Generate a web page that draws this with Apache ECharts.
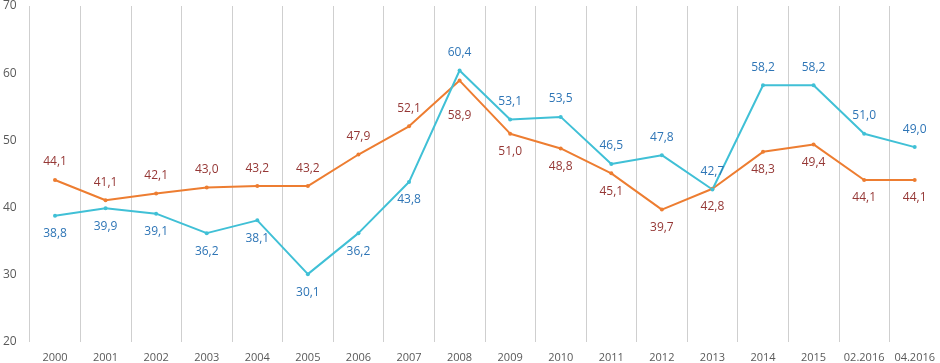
<!DOCTYPE html>
<html>
<head>
<meta charset="utf-8">
<script src="https://cdn.jsdelivr.net/npm/echarts@6/dist/echarts.min.js"></script>
<style>
  html, body { margin: 0; padding: 0; background: #fff; }
  #chart { width: 940px; height: 363px; }
</style>
</head>
<body>
<div id="chart"></div>
<script>
// categories and values
const categories = ['2000', '2001', '2002', '2003', '2004', '2005', '2006', '2007', '2008',
  '2009', '2010', '2011', '2012', '2013', '2014', '2015', '02.2016', '04.2016'];
const orangeValues = [44.1, 41.1, 42.1, 43.0, 43.2, 43.2, 47.9, 52.1, 58.9,
  51.0, 48.8, 45.1, 39.7, 42.8, 48.3, 49.4, 44.1, 44.1];
const blueValues = [38.8, 39.9, 39.1, 36.2, 38.1, 30.1, 36.2, 43.8, 60.4,
  53.1, 53.5, 46.5, 47.8, 42.7, 58.2, 58.2, 51.0, 49.0];
// label placement: first 8 points orange above / blue below, then swapped
const orangeLabelPos = ['top', 'top', 'top', 'top', 'top', 'top', 'top', 'top', 'bottom',
  'bottom', 'bottom', 'bottom', 'bottom', 'bottom', 'bottom', 'bottom', 'bottom', 'bottom'];
const blueLabelPos = ['bottom', 'bottom', 'bottom', 'bottom', 'bottom', 'bottom', 'bottom', 'bottom', 'top',
  'top', 'top', 'top', 'top', 'top', 'top', 'top', 'top', 'top'];

const COLORS = {
  orange: '#ed7d31',
  orangeLabel: '#953735',
  blue: '#40c0d6',
  blueLabel: '#2e75b6',
  text: '#595959',
  grid: '#cfcfcf',
};
const FONT = '"Open Sans", sans-serif';

// 2008 orange label sits lower so it clears the blue peak
const orangeLabelDistance = { 8: 27 };

const fmt = (v) => v.toFixed(1).replace('.', ',');

function buildData(values, positions, labelColor, distances) {
  return values.map((v, i) => ({
    value: v,
    label: {
      position: positions[i],
      color: labelColor,
      distance: (distances && distances[i]) || 10,
    },
  }));
}

const chart = echarts.init(document.getElementById('chart'));

const option = {
  animation: false,
  grid: { left: 28, right: -2, top: 5, bottom: 21 },
  xAxis: {
    type: 'category',
    data: categories,
    boundaryGap: true,
    axisLine: { show: false },
    axisTick: { show: false },
    axisLabel: {
      color: COLORS.text,
      fontSize: 11,
      fontFamily: FONT,
      margin: 10,
      interval: 0,
    },
    splitLine: {
      show: true,
      interval: 0,
      lineStyle: { color: COLORS.grid, width: 1 },
    },
  },
  yAxis: {
    type: 'value',
    min: 20,
    max: 70,
    interval: 10,
    axisLine: { show: false },
    axisTick: { show: false },
    splitLine: { show: false },
    axisLabel: {
      color: COLORS.text,
      fontSize: 12,
      fontFamily: FONT,
      margin: 13,
    },
  },
  series: [
    {
      name: 'orange',
      type: 'line',
      data: buildData(orangeValues, orangeLabelPos, COLORS.orangeLabel, orangeLabelDistance),
      symbol: 'circle',
      symbolSize: 4,
      itemStyle: { color: COLORS.orange },
      lineStyle: { color: COLORS.orange, width: 2 },
      label: {
        show: true,
        fontSize: 12,
        fontFamily: FONT,
        formatter: (p) => fmt(p.value),
      },
    },
    {
      name: 'blue',
      type: 'line',
      data: buildData(blueValues, blueLabelPos, COLORS.blueLabel),
      symbol: 'circle',
      symbolSize: 4,
      itemStyle: { color: COLORS.blue },
      lineStyle: { color: COLORS.blue, width: 2 },
      label: {
        show: true,
        fontSize: 12,
        fontFamily: FONT,
        formatter: (p) => fmt(p.value),
      },
    },
  ],
};

chart.setOption(option);
</script>
</body>
</html>
